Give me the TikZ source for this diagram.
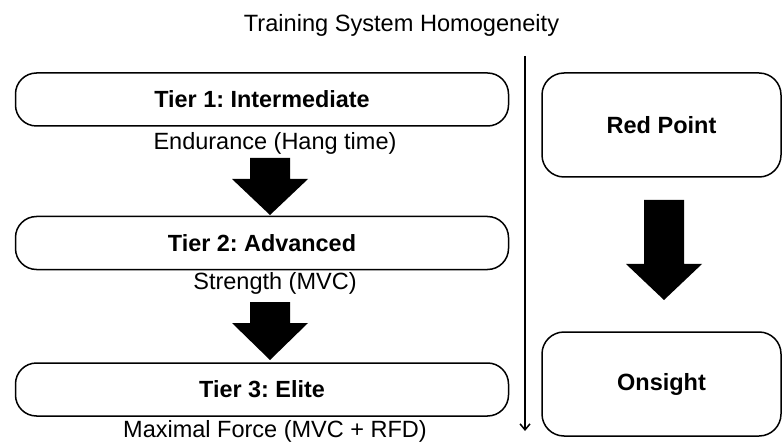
\documentclass[tikz,border=0pt]{standalone}
\usepackage{fontspec}
\setmainfont{Liberation Sans}
\usetikzlibrary{arrows.meta,calc}
\frenchspacing
\begin{document}
\begin{tikzpicture}[x=1pt,y=-1pt,
  tierbox/.style={draw, line width=1.5pt, rounded corners=21pt, minimum width=493pt, minimum height=53pt, inner sep=0pt, font=\fontsize{23.4}{27}\selectfont\bfseries},
  sidebox/.style={draw, line width=1.5pt, rounded corners=22pt, minimum width=239pt, minimum height=104pt, inner sep=0pt, font=\fontsize{23.5}{27}\selectfont\bfseries},
  sublabel/.style={inner sep=0pt, font=\fontsize{23.5}{27}\selectfont},
  titlelabel/.style={inner sep=0pt, font=\fontsize{23.6}{27}\selectfont}]
\useasboundingbox (0,0) rectangle (783,443);
\newcommand\blockarrow[4]{% x, shaft top, head base, tip
  \fill (#1-20,#2) -- (#1+20,#2) -- (#1+20,#3) -- (#1+38,#3) -- (#1,#4) -- (#1-38,#3) -- (#1-20,#3) -- cycle;}
\node[titlelabel] (title) at (401.5,25) {Training System Homogeneity};
\node[tierbox] (t1) at (262,99.5) {Tier 1: Intermediate};
\node[tierbox] (t2) at (262,243) {Tier 2: Advanced};
\node[tierbox] (t3) at (262,389.5) {Tier 3: Elite};
\node[sublabel] (s1) at (275,143) {Endurance (Hang time)};
\node[sublabel] (s2) at (275,283) {Strength (MVC)};
\node[sublabel] (s3) at (275,431) {Maximal Force (MVC + RFD)};
\node[sidebox] (rp) at (661.5,125) {Red Point};
\node[sidebox] (on) at (661.5,384) {Onsight};
\coordinate (vtop) at (525,56);
\coordinate (vbot) at (525,431);
\draw[line width=1.5pt, -{Straight Barb[length=6pt,width=10pt,line width=1.5pt]}] (vtop) -- (vbot);
\blockarrow{270}{158}{179}{215}
\blockarrow{270}{302}{323}{360}
\blockarrow{664}{200}{264}{300}
\end{tikzpicture}
\end{document}
